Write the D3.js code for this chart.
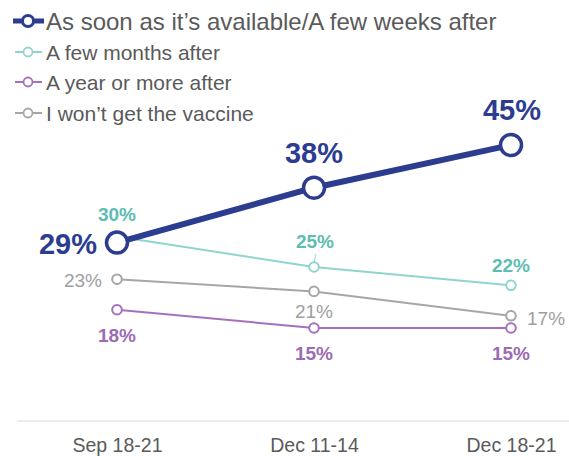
<!DOCTYPE html>
<html>
<head>
<meta charset="utf-8">
<script src="https://cdn.jsdelivr.net/npm/d3@7"></script>
<style>
  html, body { margin: 0; padding: 0; background: #fff; }
  svg { display: block; font-family: "Liberation Sans", Arial, sans-serif; }
</style>
</head>
<body>
<svg id="chart" width="569" height="456"></svg>
<script>
// Survey waves
const waves = ["Sep 18-21", "Dec 11-14", "Dec 18-21"];

// Share of respondents (%) by timing of getting the vaccine
const seriesNames = [
  "As soon as it\u2019s available/A few weeks after",
  "A few months after",
  "A year or more after",
  "I won\u2019t get the vaccine"
];
const soonValues   = [29, 38, 45];
const monthsValues = [30, 25, 22];
const yearValues   = [18, 15, 15];
const neverValues  = [23, 21, 17];

// Styling per series (kept separate from the values)
const styles = [
  { line: "#2c3d8f", label: "#2c3d8f", width: 6,   r: 10.5, rw: 3.5, font: 29, weight: "bold" },
  { line: "#8fd4d0", label: "#5dbdb2", width: 2,   r: 4.8,  rw: 2,   font: 19, weight: "bold" },
  { line: "#a571bd", label: "#9b6cb3", width: 2,   r: 4.8,  rw: 2,   font: 19, weight: "bold" },
  { line: "#a6a6a6", label: "#9e9e9e", width: 2,   r: 4.8,  rw: 2,   font: 19, weight: "normal" }
];

// Label placement per series and wave: [dx, dy, anchor]
const labelPlacement = [
  [[-20, 11, "end"], [0, -25, "middle"], [1, -25, "middle"]],
  [[0, -16, "middle"], [1, -19, "middle"], [0, -13, "middle"]],
  [[0, 32, "middle"], [0, 32, "middle"], [0, 32, "middle"]],
  [[-15, 8, "end"], [0, 27, "middle"], [16, 9, "start"]]
];

const seriesValues = [soonValues, monthsValues, yearValues, neverValues];
const series = seriesNames.map((name, i) => ({
  name, values: seriesValues[i], style: styles[i], place: labelPlacement[i]
}));

const svg = d3.select("#chart");

const x = d3.scalePoint().domain(waves).range([117, 511]);
const y = d3.scaleLinear().domain([0, 50]).range([419.5, 114.5]);

// Baseline axis with wave labels
const axis = d3.axisBottom(x).tickSize(0).tickPadding(17);
const gAxis = svg.append("g").attr("transform", "translate(0,421)").call(axis);
gAxis.attr("font-family", null).attr("font-size", null);
gAxis.select(".domain").remove();
gAxis.append("line")
  .attr("x1", 17).attr("x2", 569).attr("y1", 0).attr("y2", 0)
  .attr("stroke", "#d9d9d9").attr("stroke-width", 1.2);
gAxis.selectAll(".tick text")
  .attr("fill", "#5a5a5a")
  .style("font-size", "19.5px")
  .style("font-weight", "normal");

const line = d3.line().x((d, i) => x(waves[i])).y(d => y(d));

// Draw thinner series first, main series on top
const drawOrder = [3, 2, 1, 0];
drawOrder.forEach(si => {
  const s = series[si];
  const g = svg.append("g");
  g.append("path")
    .datum(s.values)
    .attr("d", line)
    .attr("fill", "none")
    .attr("stroke", s.style.line)
    .attr("stroke-width", s.style.width)
    .attr("stroke-linejoin", "round");
  g.selectAll("circle")
    .data(s.values)
    .join("circle")
    .attr("cx", (d, i) => x(waves[i]))
    .attr("cy", d => y(d))
    .attr("r", s.style.r)
    .attr("fill", "#fff")
    .attr("stroke", s.style.line)
    .attr("stroke-width", s.style.rw);
});

// Value labels
series.forEach(s => {
  svg.append("g").selectAll("text")
    .data(s.values)
    .join("text")
    .attr("x", (d, i) => x(waves[i]) + s.place[i][0])
    .attr("y", (d, i) => y(d) + s.place[i][1])
    .attr("text-anchor", (d, i) => s.place[i][2])
    .attr("fill", s.style.label)
    .style("font-size", s.style.font + "px")
    .style("font-weight", s.style.weight)
    .text(d => d + "%");
});

// Short leader from the middle "few months" label to its point
svg.append("line")
  .attr("x1", x(waves[1]) + 2).attr("y1", y(monthsValues[1]) - 13)
  .attr("x2", x(waves[1])).attr("y2", y(monthsValues[1]) - 5)
  .attr("stroke", "#8fd4d0").attr("stroke-width", 1);

// Legend
const legendY = [21, 52, 82, 113];
const legend = svg.append("g");
series.forEach((s, i) => {
  const g = legend.append("g").attr("transform", `translate(0,${legendY[i]})`);
  const main = i === 0;
  g.append("line")
    .attr("x1", main ? 13 : 15).attr("x2", main ? 44 : 42)
    .attr("y1", 0).attr("y2", 0)
    .attr("stroke", s.style.line)
    .attr("stroke-width", main ? 5 : 2);
  g.append("circle")
    .attr("cx", 28).attr("cy", 0)
    .attr("r", main ? 5.5 : 4.5)
    .attr("fill", "#fff")
    .attr("stroke", s.style.line)
    .attr("stroke-width", main ? 3 : 1.8);
  g.append("text")
    .attr("x", 46).attr("y", 0)
    .attr("dy", "0.36em")
    .attr("fill", "#5a5a5a")
    .style("font-size", main ? "24px" : "21px")
    .text(s.name);
});
</script>
</body>
</html>
